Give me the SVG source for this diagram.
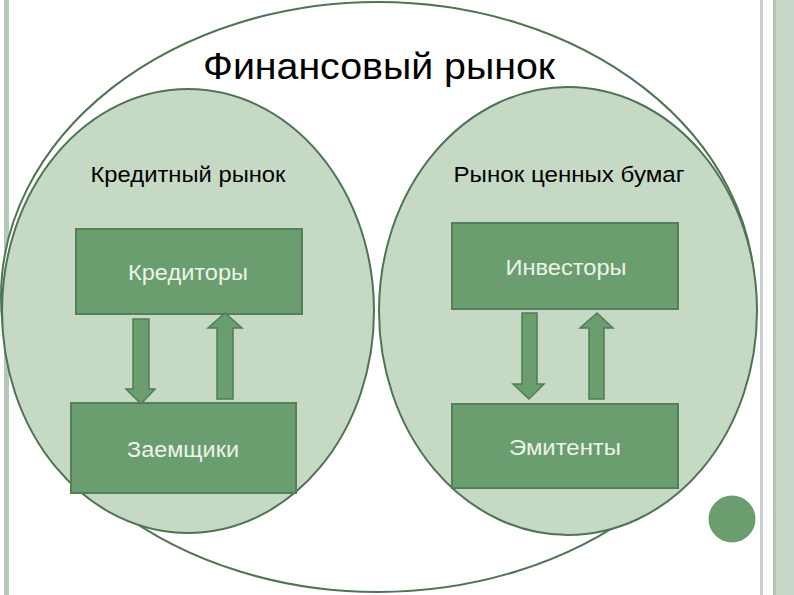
<svg xmlns="http://www.w3.org/2000/svg" width="794" height="595" viewBox="0 0 794 595">
<style>
.market{fill:#c5d9c5;stroke:#4e7452;stroke-width:2}
.box{fill:#6a9e6e;stroke:#557f59;stroke-width:2}
.arrow{fill:#6a9e6e;stroke:#4f7d54;stroke-width:1.5}
.title{font-family:"Liberation Sans",Arial,sans-serif;fill:#000}
.lbl{font-family:"Liberation Sans",Arial,sans-serif;font-size:22px;fill:#eef3ea;text-anchor:middle}
</style>
<rect width="794" height="595" fill="#fff"/>
<rect x="4" y="0" width="5" height="595" fill="#b5c9b9"/>
<rect x="760" y="0" width="3" height="595" fill="#c9cfcc"/>
<rect x="773" y="0" width="21" height="595" fill="#c8d8c8"/>
<rect x="773" y="0" width="3" height="595" fill="#b3c5b3"/>
<g id="financial-market">
<ellipse cx="378" cy="297" rx="377" ry="295" fill="#fff" stroke="#4e7452" stroke-width="2"/>
<text class="title" x="379" y="79" font-size="37" text-anchor="middle" textLength="352" lengthAdjust="spacingAndGlyphs">Финансовый рынок</text>
</g>
<g id="credit-market">
<ellipse class="market" cx="188" cy="311" rx="186" ry="222"/>
<text class="title" x="188" y="182" font-size="22" text-anchor="middle" textLength="195" lengthAdjust="spacingAndGlyphs">Кредитный рынок</text>
</g>
<g id="securities-market">
<ellipse class="market" cx="568" cy="311" rx="189" ry="224"/>
<text class="title" x="569" y="182" font-size="22" text-anchor="middle" textLength="231" lengthAdjust="spacingAndGlyphs">Рынок ценных бумаг</text>
</g>
<g id="creditors">
<rect class="box" x="76" y="229" width="226" height="85"/>
<text class="lbl" x="188" y="280" textLength="120" lengthAdjust="spacingAndGlyphs">Кредиторы</text>
</g>
<g id="borrowers">
<rect class="box" x="71" y="403" width="225" height="90"/>
<text class="lbl" x="183" y="457" textLength="112" lengthAdjust="spacingAndGlyphs">Заемщики</text>
</g>
<g id="investors">
<rect class="box" x="452" y="223" width="226" height="86"/>
<text class="lbl" x="566" y="275" textLength="121" lengthAdjust="spacingAndGlyphs">Инвесторы</text>
</g>
<g id="issuers">
<rect class="box" x="452" y="404" width="226" height="84"/>
<text class="lbl" x="565" y="455" textLength="112" lengthAdjust="spacingAndGlyphs">Эмитенты</text>
</g>
<g id="connectors">
<polygon class="arrow" points="133,319 149,319 149,389 155,389 141,404 126,389 133,389"/>
<polygon class="arrow" points="217,399 233,399 233,328 242,328 225,313 208,328 217,328"/>
<polygon class="arrow" points="522,313 537,313 537,384 544,384 529,399 513,384 522,384"/>
<polygon class="arrow" points="589,399 604,399 604,328 613,328 597,313 580,328 589,328"/>
</g>
<circle cx="732" cy="519" r="23.5" fill="#6a9e6e"/>
</svg>
